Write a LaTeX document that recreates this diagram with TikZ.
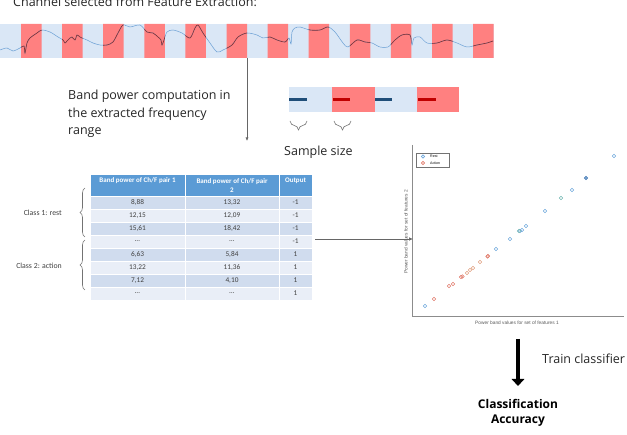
\documentclass[tikz,border=0pt]{standalone}
\usepackage{fontspec}
\setmainfont{Open Sans}
\newfontfamily\tabfont{Carlito}
\newfontfamily\plotfont{Liberation Sans}
\usetikzlibrary{arrows.meta,decorations.pathreplacing}
\definecolor{stripblue}{HTML}{DAE7F6}
\definecolor{stripred}{HTML}{FF8080}
\definecolor{sigblue}{HTML}{6A9FD4}
\definecolor{sigdark}{HTML}{8C2A2A}
\definecolor{hdr}{HTML}{5B9BD5}
\definecolor{rowA}{HTML}{D0DCEE}
\definecolor{rowB}{HTML}{E9EEF7}
\definecolor{dashblue}{HTML}{1F4E79}
\definecolor{dashred}{HTML}{C00000}
\definecolor{ptblue}{HTML}{6FA8DC}
\definecolor{ptteal}{HTML}{6FB5B0}
\definecolor{ptdark}{HTML}{3F78B5}
\definecolor{ptred}{HTML}{E07A6A}
\definecolor{ptorange}{HTML}{E0A080}
\definecolor{txtgray}{HTML}{404040}
\tikzset{
  bigtext/.style={font=\fontsize{12.5}{17.5}\selectfont, text=black!85, inner sep=0pt},
  cell/.style={draw=white, line width=0.9pt, inner sep=0pt, minimum height=13pt,
    font=\tabfont\fontsize{7.3}{8}\selectfont, text=txtgray},
  hcell/.style={draw=white, line width=0.9pt, inner sep=0pt, minimum height=22pt, fill=hdr,
    font=\tabfont\bfseries\fontsize{7}{8.5}\selectfont, text=white, anchor=north},
  bracegray/.style={draw=black!55, line width=0.6pt, decorate},
  pt/.style={line width=0.6pt},
  thinarrow/.style={draw=black!60, line width=0.6pt, -{Latex[length=3.5pt,width=3pt]}},
  classlbl/.style={font=\tabfont\fontsize{7.8}{8}\selectfont, text=txtgray, anchor=east, inner sep=0pt},
}
\begin{document}
\begin{tikzpicture}[x=1pt,y=-1pt]
\useasboundingbox (0,0) rectangle (627,435);

% title
\node[bigtext, anchor=base west] (title) at (13,7) {Channel selected from Feature Extraction:};

% signal strip
\node[fill=stripblue, minimum width=494pt, minimum height=34pt, inner sep=0pt, anchor=north west] (strip) at (0,24) {};
\fill[stripred] \foreach \k in {0,...,11} {({21+41.1*\k},24) rectangle ++(20.5,34)};
\def\sigpath{plot[smooth, tension=0.5] coordinates {(0,50) (7,48) (13,51) (20,48) (24,46) (25,53) (27,43) (30,38) (37,33) (42,30) (50,32) (58,37) (63,40) (65,43) (67,41) (70,38) (72,37) (75,40) (77,35) (80,37) (82,38) (87,40) (93,43) (100,45) (107,45) (113,42) (118,33) (123,25) (130,27) (140,25) (147,32) (153,33) (158,37) (161,40) (162,45) (164,40) (167,32) (173,30) (182,33) (190,38) (195,28) (198,25) (203,33) (210,43) (217,52) (223,50) (232,45) (238,37) (247,33) (257,35) (263,38) (270,37) (277,40) (285,42) (289,38) (291,44) (292,32) (295,28) (300,27) (310,30) (320,30) (328,27) (335,32) (343,43) (348,47) (357,40) (365,42) (372,43) (380,47) (388,47) (395,40) (402,35) (410,35) (412,45) (414,38) (420,37) (427,43) (437,43) (447,40) (457,43) (467,47) (477,45) (487,43) (493,41)}}
\draw[sigblue, line width=0.5pt] \sigpath;
\begin{scope}
  \path[clip] \foreach \k in {0,...,11} {({21+41.1*\k},24) rectangle ++(20.5,34)};
  \draw[sigdark, line width=0.6pt] \sigpath;
\end{scope}

% vertical arrow
\coordinate (vtop) at (247,58);
\coordinate (vend) at (247,141);
\draw[thinarrow] (vtop) -- (vend);

% band power text
\node[bigtext, anchor=north west, align=left] (bandtxt) at (68,90)
  {Band power computation in\\the extracted frequency\\range};

% small sample strip
\node[fill=stripblue, minimum width=43pt, minimum height=25pt, inner sep=0pt, anchor=north west] (sb1) at (289,87) {};
\node[fill=stripred, minimum width=43pt, minimum height=25pt, inner sep=0pt, anchor=north west] (sr1) at (332,87) {};
\node[fill=stripblue, minimum width=42pt, minimum height=25pt, inner sep=0pt, anchor=north west] (sb2) at (375,87) {};
\node[fill=stripred, minimum width=42pt, minimum height=25pt, inner sep=0pt, anchor=north west] (sr2) at (417,87) {};
\draw[dashblue, line width=3.5pt] (289,99.5) -- (307,99.5);
\draw[dashred, line width=3.5pt] (333,99.5) -- (350,99.5);
\draw[dashblue, line width=3.5pt] (375,99.5) -- (392,99.5);
\draw[dashred, line width=3.5pt] (418,99.5) -- (436,99.5);
\draw[bracegray, decoration={brace, amplitude=9pt}] (307,121) -- (290,121);
\draw[bracegray, decoration={brace, amplitude=9pt}] (351,121) -- (334,121);
\node[bigtext, anchor=base west] (sample) at (284,155.5) {Sample size};

% table
\node[hcell, minimum width=95pt, align=center] (h1) at (137.5,174) {Band power of Ch/F pair 1\\\strut};
\node[hcell, minimum width=94pt, align=center] (h2) at (232,174) {Band power of Ch/F pair\\2};
\node[hcell, minimum width=33pt, align=center] (h3) at (295.5,174) {Output\\\strut};
\foreach \i/\a/\b/\c in {1/{8,88}/{13,32}/-1, 2/{12,15}/{12,09}/-1, 3/{15,61}/{18,42}/-1, 4/{…}/{…}/-1,
                         5/{6,63}/{5,84}/1, 6/{13,22}/{11,36}/1, 7/{7,12}/{4,10}/1, 8/{…}/{…}/1} {
  \ifodd\i \def\rc{rowA}\else \def\rc{rowB}\fi
  \node[cell, fill=\rc, minimum width=95pt] (ra\i) at (137.5,{189.5+13*\i}) {\a};
  \node[cell, fill=\rc, minimum width=94pt] (rb\i) at (232,{189.5+13*\i}) {\b};
  \node[cell, fill=\rc, minimum width=33pt] (rc\i) at (295.5,{189.5+13*\i}) {\c};
}
% class braces
\draw[bracegray, decoration={brace, amplitude=5pt}] (85,237) -- (85,188);
\draw[bracegray, decoration={brace, amplitude=5pt}] (85,290) -- (85,240);
\node[classlbl] (cls1) at (62,213) {Class 1: rest};
\node[classlbl] (cls2) at (62,266) {Class 2: action};

% scatter plot
\coordinate (yax) at (412,145);
\coordinate (org) at (412,316);
\coordinate (xax) at (624,316);
\draw[black!45, line width=0.8pt] (yax) -- (org) -- (xax);
\node[font=\plotfont\fontsize{4.8}{5}\selectfont, text=black!65, inner sep=0pt] (xlab) at (517,323) {Power band values for set of features 1};
\node[font=\plotfont\fontsize{4.8}{5}\selectfont, text=black!65, inner sep=0pt, rotate=90] (ylab) at (406,232) {Power band values for set of features 2};
\node[draw=black!55, line width=0.5pt, minimum width=33pt, minimum height=14pt, inner sep=0pt, anchor=north west] (legend) at (416,153) {};
\draw[ptblue, pt] (423,156.5) circle (1.6);
\draw[ptred, pt] (423,163) circle (1.6);
\node[font=\plotfont\fontsize{3.6}{4}\selectfont, anchor=west, inner sep=0pt] (lrest) at (430,156.5) {Rest};
\node[font=\plotfont\fontsize{3.6}{4}\selectfont, anchor=west, inner sep=0pt] (lact) at (430,163) {Action};
\foreach \p in {(425,306),(496,249),(510,239),(520,231),(522,230),(526,226),(545,211),(572,190),(614,156)}
  \draw[ptblue, pt] \p circle (1.8);
\draw[ptteal, pt] (561,198) circle (1.8);
\draw[ptteal, pt] (519,231) circle (1.8);
\draw[ptdark, pt] (586,178) circle (1.8);
\draw[ptdark, line width=0.4pt] (586,178) circle (1.2);
\foreach \p in {(434,299),(449,286),(453,284),(461,277),(462.5,276.5),(488,256),(487.5,256.5)}
  \draw[ptred, pt] \p circle (1.8);
\foreach \p in {(467,273),(470,270),(473,268),(480,262)}
  \draw[ptorange, pt] \p circle (1.8);

% table -> plot arrow
\coordinate (tend) at (315,239);
\coordinate (pend) at (413,239);
\draw[draw=black!60, line width=0.6pt, -{Latex[length=4pt,width=3.5pt]}] (tend) -- (pend);

% thick arrow
\coordinate (ktop) at (518,339);
\coordinate (kend) at (518,386);
\draw[line width=4.6pt, -{Triangle[length=7pt,width=12.5pt]}] (ktop) -- (kend);
\node[bigtext, anchor=base west] (train) at (542,364) {Train classifier};
\node[font=\bfseries\fontsize{12}{15.5}\selectfont, inner sep=0pt, anchor=north, align=center] (acc) at (518,399) {Classification\\Accuracy};
\end{tikzpicture}
\end{document}
